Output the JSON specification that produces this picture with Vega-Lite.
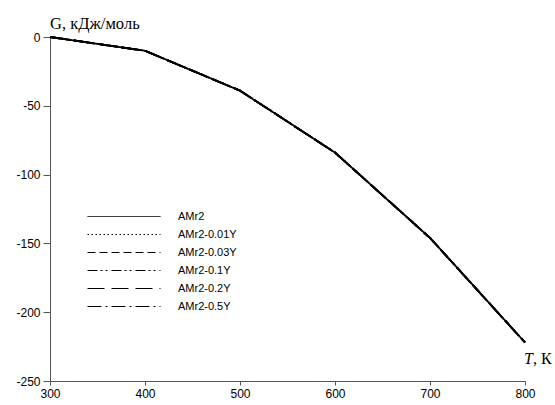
{
  "$schema": "https://vega.github.io/schema/vega-lite/v6.json",
  "width": 475,
  "height": 344,
  "autosize": "none",
  "padding": {"left": 50, "top": 37, "right": 30, "bottom": 24},
  "background": "white",
  "config": {
    "view": {"stroke": null},
    "axis": {
      "labelFont": "Liberation Sans",
      "labelFontSize": 12,
      "labelColor": "black",
      "domainColor": "#555555",
      "tickColor": "#555555",
      "grid": false,
      "title": null
    }
  },
  "layer": [
    {
      "data": {
        "values": [
          {"series": "AMr2", "T": 300, "G": 0},
          {"series": "AMr2", "T": 400, "G": -10},
          {"series": "AMr2", "T": 500, "G": -39},
          {"series": "AMr2", "T": 600, "G": -84},
          {"series": "AMr2", "T": 700, "G": -146},
          {"series": "AMr2", "T": 800, "G": -222},
          {"series": "AMr2-0.01Y", "T": 300, "G": 0},
          {"series": "AMr2-0.01Y", "T": 400, "G": -10},
          {"series": "AMr2-0.01Y", "T": 500, "G": -39},
          {"series": "AMr2-0.01Y", "T": 600, "G": -84},
          {"series": "AMr2-0.01Y", "T": 700, "G": -146},
          {"series": "AMr2-0.01Y", "T": 800, "G": -222},
          {"series": "AMr2-0.03Y", "T": 300, "G": 0},
          {"series": "AMr2-0.03Y", "T": 400, "G": -10},
          {"series": "AMr2-0.03Y", "T": 500, "G": -39},
          {"series": "AMr2-0.03Y", "T": 600, "G": -84},
          {"series": "AMr2-0.03Y", "T": 700, "G": -146},
          {"series": "AMr2-0.03Y", "T": 800, "G": -222},
          {"series": "AMr2-0.1Y", "T": 300, "G": 0},
          {"series": "AMr2-0.1Y", "T": 400, "G": -10},
          {"series": "AMr2-0.1Y", "T": 500, "G": -39},
          {"series": "AMr2-0.1Y", "T": 600, "G": -84},
          {"series": "AMr2-0.1Y", "T": 700, "G": -146},
          {"series": "AMr2-0.1Y", "T": 800, "G": -222},
          {"series": "AMr2-0.2Y", "T": 300, "G": 0},
          {"series": "AMr2-0.2Y", "T": 400, "G": -10},
          {"series": "AMr2-0.2Y", "T": 500, "G": -39},
          {"series": "AMr2-0.2Y", "T": 600, "G": -84},
          {"series": "AMr2-0.2Y", "T": 700, "G": -146},
          {"series": "AMr2-0.2Y", "T": 800, "G": -222},
          {"series": "AMr2-0.5Y", "T": 300, "G": 0},
          {"series": "AMr2-0.5Y", "T": 400, "G": -10},
          {"series": "AMr2-0.5Y", "T": 500, "G": -39},
          {"series": "AMr2-0.5Y", "T": 600, "G": -84},
          {"series": "AMr2-0.5Y", "T": 700, "G": -146},
          {"series": "AMr2-0.5Y", "T": 800, "G": -222}
        ]
      },
      "mark": {"type": "line", "color": "black", "strokeWidth": 1.8},
      "encoding": {
        "x": {
          "field": "T",
          "type": "quantitative",
          "scale": {"domain": [300, 800], "nice": false, "zero": false},
          "axis": {"values": [300, 400, 500, 600, 700, 800], "tickSize": 4, "labelPadding": 3, "labelFlush": false}
        },
        "y": {
          "field": "G",
          "type": "quantitative",
          "scale": {"domain": [-250, 0], "nice": false},
          "axis": {"values": [0, -50, -100, -150, -200, -250], "tickSize": 7, "labelPadding": 3, "labelExpr": "'' + datum.value"}
        },
        "strokeDash": {
          "field": "series",
          "type": "nominal",
          "scale": {
            "domain": ["AMr2", "AMr2-0.01Y", "AMr2-0.03Y", "AMr2-0.1Y", "AMr2-0.2Y", "AMr2-0.5Y"],
            "range": [[1, 0], [1.5, 2.5], [8, 4], [10, 3, 2, 3, 2, 4], [17, 7], [14, 4, 2, 4]]
          },
          "legend": {
            "orient": "none",
            "legendX": 68.5,
            "legendY": 174,
            "title": null,
            "padding": 0,
            "symbolType": "M-7.3,0H7.3",
            "symbolSize": 100,
            "symbolStrokeWidth": 1,
            "symbolStrokeColor": "black",
            "labelOffset": 48.5,
            "labelFont": "Liberation Sans",
            "labelFontSize": 11,
            "labelColor": "black",
            "rowPadding": 6
          }
        }
      }
    },
    {
      "data": {"values": [{}]},
      "mark": {"type": "text", "text": "G, кДж/моль", "font": "Liberation Serif", "fontSize": 16.5, "align": "left", "baseline": "alphabetic", "dy": -8, "color": "black"},
      "encoding": {"x": {"datum": 300}, "y": {"datum": 0}}
    },
    {
      "data": {"values": [{}]},
      "mark": {"type": "text", "text": "T", "font": "Liberation Serif", "fontSize": 16, "fontStyle": "italic", "align": "left", "baseline": "alphabetic", "dx": -1, "color": "black"},
      "encoding": {"x": {"datum": 800}, "y": {"datum": -238}}
    },
    {
      "data": {"values": [{}]},
      "mark": {"type": "text", "text": ", К", "font": "Liberation Serif", "fontSize": 16, "align": "left", "baseline": "alphabetic", "dx": 8, "color": "black"},
      "encoding": {"x": {"datum": 800}, "y": {"datum": -238}}
    }
  ]
}
